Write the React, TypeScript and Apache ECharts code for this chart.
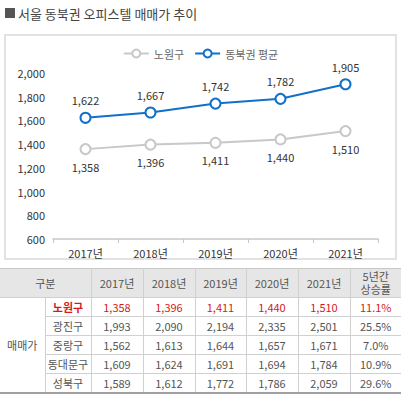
import React, { useEffect, useRef } from "react";
import * as echarts from "echarts";

const years = ["2017년", "2018년", "2019년", "2020년", "2021년"];
const nowonValues = [1358, 1396, 1411, 1440, 1510];
const dongbukValues = [1622, 1667, 1742, 1782, 1905];
const yTicks = { min: 600, max: 2000, interval: 200 };

const tableHeader = ["구분", "2017년", "2018년", "2019년", "2020년", "2021년", "5년간\n상승률"];
const tableGroup = "매매가";
const districts = ["노원구", "광진구", "중랑구", "동대문구", "성북구"];
const districtValues = [
  ["1,358", "1,396", "1,411", "1,440", "1,510", "11.1%"],
  ["1,993", "2,090", "2,194", "2,335", "2,501", "25.5%"],
  ["1,562", "1,613", "1,644", "1,657", "1,671", "7.0%"],
  ["1,609", "1,624", "1,691", "1,694", "1,784", "10.9%"],
  ["1,589", "1,612", "1,772", "1,786", "2,059", "29.6%"],
];

const FONT = "'Noto Sans CJK KR', 'Noto Sans', sans-serif";
const BLUE = "#1170c9";
const GRAY = "#c8c8c8";

export default function App() {
  const ref = useRef<HTMLDivElement>(null);

  useEffect(() => {
    const chart = echarts.init(ref.current!, null, { renderer: "svg" });
    chart.setOption({
      animation: false,
      textStyle: { fontFamily: FONT },
      graphic: [
        { type: "rect", shape: { x: 5, y: 8, width: 10, height: 10 }, style: { fill: "#555" } },
        {
          type: "text",
          x: 18,
          y: 13,
          style: { text: "서울 동북권 오피스텔 매매가 추이", fontSize: 13, fill: "#444", fontFamily: FONT, verticalAlign: "middle" },
        },
        {
          type: "rect",
          shape: { x: 5, y: 35, width: 391, height: 224 },
          style: { fill: "none", stroke: "#e2e2e2", lineWidth: 2 },
          z: -1,
        },
      ],
      legend: {
        top: 43,
        left: "center",
        itemWidth: 25,
        itemHeight: 10,
        itemGap: 10,
        textStyle: { fontSize: 11, color: "#666", fontFamily: FONT },
        data: ["노원구", "동북권 평균"],
      },
      grid: { left: 53, right: 23, top: 73, bottom: 26, containLabel: false },
      xAxis: {
        type: "category",
        data: years,
        boundaryGap: true,
        axisLine: { lineStyle: { color: GRAY, width: 1.5 } },
        axisTick: { show: true, length: 4, lineStyle: { color: GRAY } },
        axisLabel: { fontSize: 11, color: "#333", margin: 8, fontFamily: FONT },
      },
      yAxis: {
        type: "value",
        min: yTicks.min,
        max: yTicks.max,
        interval: yTicks.interval,
        splitLine: { show: false },
        axisLine: { show: false },
        axisTick: { show: false },
        axisLabel: {
          fontSize: 11,
          color: "#333",
          margin: 8,
          fontFamily: FONT,
          formatter: (v: number) => v.toLocaleString("en-US"),
        },
      },
      series: [
        {
          name: "노원구",
          type: "line",
          data: nowonValues,
          symbol: "circle",
          symbolSize: 10,
          lineStyle: { color: GRAY, width: 2 },
          itemStyle: { color: "#fff", borderColor: GRAY, borderWidth: 2 },
          label: {
            show: true,
            position: "bottom",
            distance: 6,
            fontSize: 11,
            color: "#333",
            fontFamily: FONT,
            formatter: (p: any) => Number(p.value).toLocaleString("en-US"),
          },
        },
        {
          name: "동북권 평균",
          type: "line",
          data: dongbukValues,
          symbol: "circle",
          symbolSize: 10,
          lineStyle: { color: BLUE, width: 2 },
          itemStyle: { color: "#fff", borderColor: BLUE, borderWidth: 2 },
          label: {
            show: true,
            position: "top",
            distance: 6,
            fontSize: 11,
            color: "#333",
            fontFamily: FONT,
            formatter: (p: any) => Number(p.value).toLocaleString("en-US"),
          },
        },
      ],
    });
    return () => chart.dispose();
  }, []);

  const colWidths = [45, 46, 52, 52, 51, 52, 52, 51];
  const cellBase: React.CSSProperties = {
    border: "1px solid #d0d0d0",
    textAlign: "center",
    padding: 0,
    fontSize: 11,
    color: "#555",
    fontFamily: FONT,
    height: 18,
    lineHeight: "13px",
  };

  return (
    <div style={{ position: "absolute", left: 0, top: 0, width: 401, height: 395, background: "#fff", overflow: "hidden" }}>
      <div ref={ref} style={{ position: "absolute", left: 0, top: 0, width: 401, height: 265 }} />
      <table
        style={{
          position: "absolute",
          left: 0,
          top: 268,
          width: 401,
          borderCollapse: "collapse",
          tableLayout: "fixed",
          borderLeft: "hidden",
          borderRight: "hidden",
          borderBottom: "2px solid #a0a0a0",
        }}
      >
        <colgroup>
          {colWidths.map((w, i) => (
            <col key={i} style={{ width: w }} />
          ))}
        </colgroup>
        <thead>
          <tr>
            {tableHeader.map((h, i) => (
              <th
                key={i}
                colSpan={i === 0 ? 2 : 1}
                style={{
                  ...cellBase,
                  height: 28,
                  background: "#e6e6e6",
                  fontWeight: "normal",
                  borderTop: "1px solid #c8c8c8",
                  whiteSpace: "pre-line",
                }}
              >
                {h}
              </th>
            ))}
          </tr>
        </thead>
        <tbody>
          {districts.map((d, r) => {
            const red = r === 0;
            const color = red ? "#d71920" : "#555";
            return (
              <tr key={d}>
                {r === 0 && (
                  <td rowSpan={districts.length} style={{ ...cellBase }}>
                    {tableGroup}
                  </td>
                )}
                <td style={{ ...cellBase, color, fontWeight: red ? "bold" : "normal" }}>{d}</td>
                {districtValues[r].map((v, c) => (
                  <td key={c} style={{ ...cellBase, color }}>
                    {v}
                  </td>
                ))}
              </tr>
            );
          })}
        </tbody>
      </table>
    </div>
  );
}
